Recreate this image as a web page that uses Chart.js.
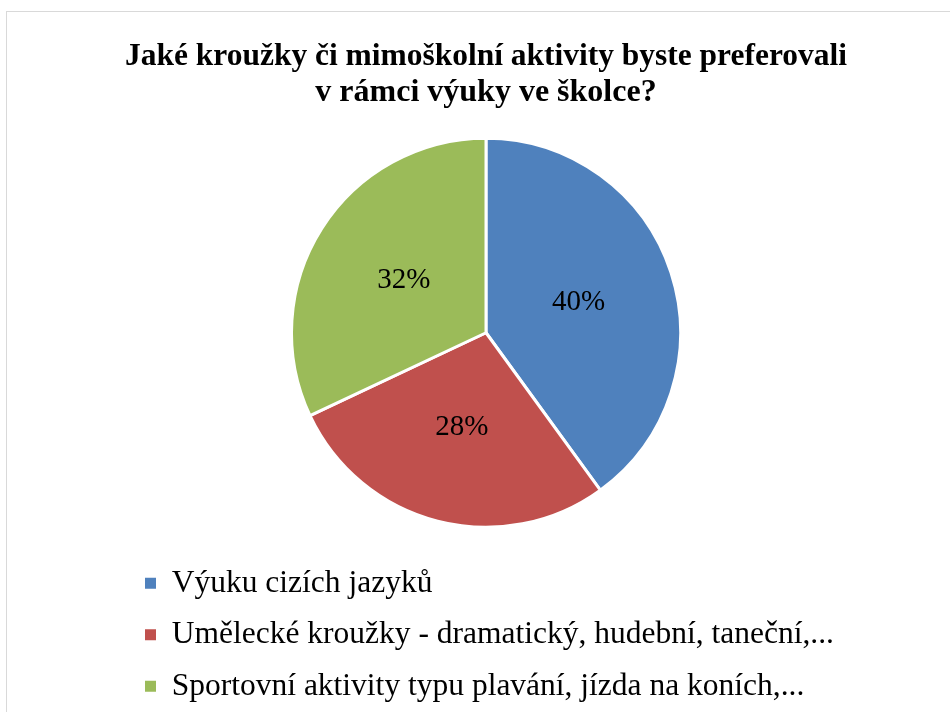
<!DOCTYPE html>
<html>
<head>
<meta charset="utf-8">
<title>Kroužky ve školce</title>
<script src="https://cdn.jsdelivr.net/npm/chart.js@4/dist/chart.umd.min.js"></script>
<style>
    html, body { margin: 0; padding: 0; background: #fff; overflow: hidden; }
    #frame {
        position: absolute; left: 6px; top: 11px;
        width: 1000px; height: 800px;
        border: 1px solid #d9d9d9;
    }
    #chart { position: absolute; left: 0; top: 0; }
</style>
</head>
<body>
<div id="frame"></div>
<canvas id="chart" width="950" height="712"></canvas>
<script>
'use strict'

// data
var titleLines = ["Jaké kroužky či mimoškolní aktivity byste preferovali", "v rámci výuky ve školce?"];
var categories = [
    "Výuku cizích jazyků",
    "Umělecké kroužky - dramatický, hudební, taneční,...",
    "Sportovní aktivity typu plavání, jízda na koních,..."
];
var percents = [40, 28, 32];
var sliceColors = ["#4f81bd", "#c0504d", "#9bbb59"];

var serif = '"Liberation Serif", "Times New Roman", serif';

// percent labels in the middle of each slice
var sliceLabels = {
    id: 'sliceLabels',
    afterDatasetsDraw: function (chart) {
        var ctx = chart.ctx;
        var meta = chart.getDatasetMeta(0);
        ctx.save();
        ctx.font = '29px ' + serif;
        ctx.fillStyle = '#000';
        ctx.textAlign = 'center';
        ctx.textBaseline = 'middle';
        meta.data.forEach(function (arc, i) {
            var p = arc.tooltipPosition();
            ctx.fillText(percents[i] + '%', p.x, p.y);
        });
        ctx.restore();
    }
};

(function () {
    var baseLabels = Chart.overrides.pie.plugins.legend.labels.generateLabels;
    var ctx = document.getElementById('chart').getContext('2d');
    var chart = new Chart(ctx, {
        type: 'pie',
        data: {
            labels: categories,
            datasets: [{
                data: percents,
                backgroundColor: sliceColors,
                borderColor: '#ffffff',
                borderWidth: 3,
                radius: 194.5
            }]
        },
        options: {
            responsive: false,
            animation: false,
            devicePixelRatio: 1,
            layout: {
                padding: { left: 125, right: 103, top: 0, bottom: 0 }
            },
            plugins: {
                title: {
                    display: true,
                    text: titleLines,
                    color: '#000',
                    font: { family: serif, size: 32, weight: 'bold', lineHeight: 1.125 },
                    padding: { top: 39, bottom: 7 }
                },
                legend: {
                    position: 'bottom',
                    align: 'start',
                    labels: {
                        color: '#000',
                        boxWidth: 11,
                        boxHeight: 11,
                        padding: 20,
                        font: { family: serif, size: 31.5 },
                        generateLabels: function (chart) {
                            // no white outline round the legend squares
                            return baseLabels(chart).map(function (item) {
                                item.lineWidth = 0;
                                return item;
                            });
                        }
                    }
                },
                tooltip: { enabled: false }
            }
        },
        plugins: [sliceLabels]
    });
})();
</script>
</body>
</html>
